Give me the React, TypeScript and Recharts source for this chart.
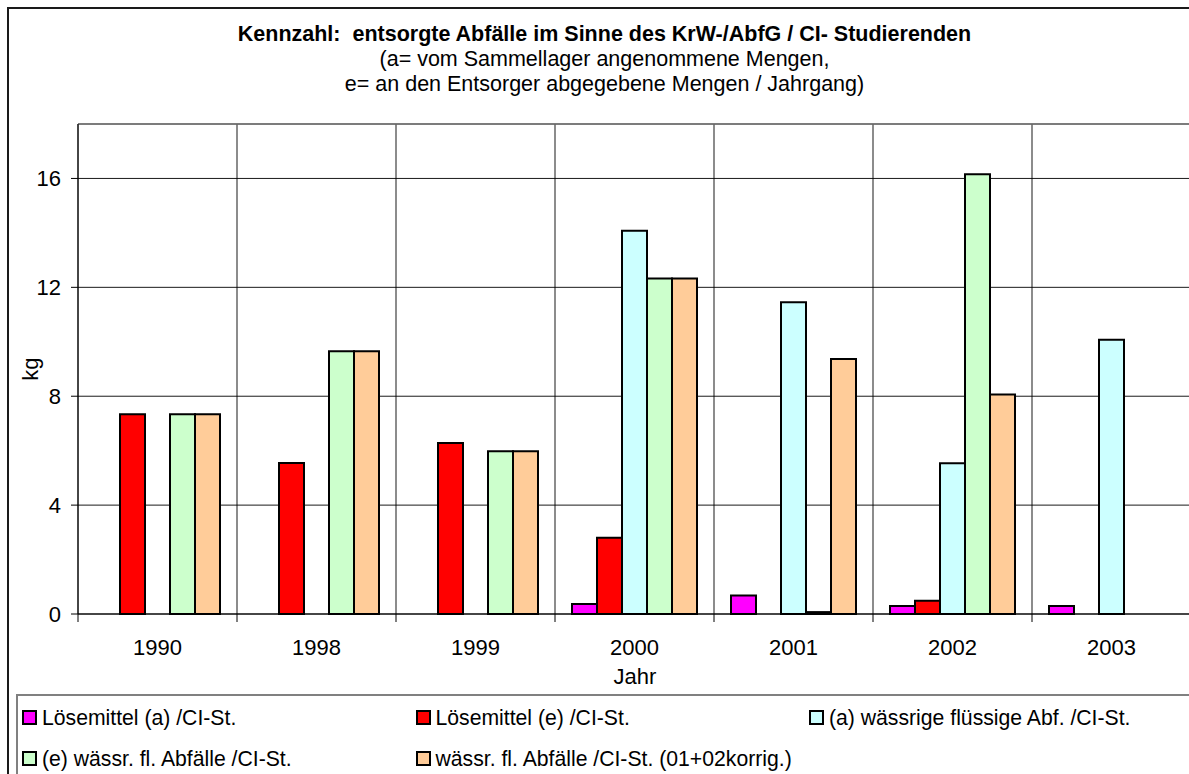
import { BarChart, Bar, XAxis, YAxis, CartesianGrid, ReferenceLine } from 'recharts'

// Excel-style grouped columns; the original picture is cut off at the right
// and bottom, so the chart box runs past the window and is clipped.

const years = ['1990', '1998', '1999', '2000', '2001', '2002', '2003']
const loesemittelA = [null, null, null, 0.37, 0.68, 0.29, 0.29]
const loesemittelE = [7.34, 5.55, 6.28, 2.8, null, 0.49, null]
const waessrigA = [null, null, null, 14.08, 11.45, 5.54, 10.07]
const waessrigE = [7.34, 9.65, 5.98, 12.32, 0.07, 16.15, null]
const waessrigKorr = [7.34, 9.65, 5.98, 12.32, 9.37, 8.06, null]

const yTicks = [0, 4, 8, 12, 16]

const series = [
  { key: 'loesA', name: 'Lösemittel (a) /CI-St.', color: '#FF00FF', values: loesemittelA },
  { key: 'loesE', name: 'Lösemittel (e) /CI-St.', color: '#FF0000', values: loesemittelE },
  { key: 'waessA', name: '(a) wässrige flüssige Abf. /CI-St.', color: '#CCFFFF', values: waessrigA },
  { key: 'waessE', name: '(e) wässr. fl. Abfälle /CI-St.', color: '#CCFFCC', values: waessrigE },
  { key: 'waessK', name: 'wässr. fl. Abfälle /CI-St. (01+02korrig.)', color: '#FFCC99', values: waessrigKorr },
]

const data = years.map((year, i) => {
  const row: Record<string, string | number | null> = { year }
  series.forEach(s => { row[s.key] = s.values[i] })
  return row
})

const font = '"Liberation Sans", Arial, sans-serif'

// category label plus an Excel-style tick mark on the left edge of the band
function YearTick(props: any) {
  const { x, y, payload, width } = props
  const half = payload?.offset || (width ? width / years.length / 2 : 0)
  const axisY = y - 25
  return (
    <g>
      <line x1={x - half} x2={x - half} y1={axisY} y2={axisY + 8} stroke="#000" />
      {payload.index === years.length - 1 && (
        <line x1={x + half} x2={x + half} y1={axisY} y2={axisY + 8} stroke="#000" />
      )}
      <text x={x} y={y} dy="0.71em" textAnchor="middle" fill="#000" fontSize={22} fontFamily={font}>
        {payload.value}
      </text>
    </g>
  )
}

export default function App() {
  return (
    <div style={{ position: 'fixed', left: 0, top: 0, width: 1189, height: 774, overflow: 'hidden', background: '#fff', fontFamily: font, color: '#000' }}>
      <div style={{ position: 'absolute', left: 7, top: 7, width: 1196, height: 820, border: '2px solid #1a1a1a', boxSizing: 'border-box' }} />

      <div style={{ position: 'absolute', left: 8, width: 1193, top: 22, textAlign: 'center', fontSize: 21.5, lineHeight: '25px' }}>
        <div style={{ fontWeight: 'bold' }}>Kennzahl:&nbsp; entsorgte Abfälle im Sinne des KrW-/AbfG / CI- Studierenden</div>
        <div>(a= vom Sammellager angenommene Mengen,</div>
        <div>e= an den Entsorger abgegebene Mengen / Jahrgang)</div>
      </div>

      <div style={{ position: 'absolute', left: 0, top: 0 }}>
        <BarChart
          width={1205}
          height={780}
          data={data}
          margin={{ top: 124, right: 14, left: 0, bottom: 106 }}
          barSize={25}
          barGap={0}
        >
          <XAxis
            dataKey="year"
            height={60}
            axisLine={{ stroke: '#000' }}
            tickLine={false}
            tickSize={0}
            tickMargin={25}
            tick={<YearTick />}
          />
          <YAxis
            domain={[0, 18]}
            ticks={yTicks}
            width={78}
            axisLine={{ stroke: '#000' }}
            tickLine={{ stroke: '#000' }}
            tickSize={7}
            tickMargin={10}
            tick={{ fill: '#000', fontSize: 22, fontFamily: font }}
          />
          <CartesianGrid
            stroke="#000"
            strokeOpacity={0.9}
            verticalCoordinatesGenerator={({ offset }: any) =>
              [...years.map((_, i) => i), years.length].map(i => offset.left + (i * offset.width) / years.length)
            }
          />
          <ReferenceLine y={18} stroke="#777" strokeWidth={1.5} />
          {series.map(s => (
            <Bar
              key={s.key}
              dataKey={s.key}
              name={s.name}
              fill={s.color}
              stroke="#000"
              strokeWidth={2}
              isAnimationActive={false}
            />
          ))}
        </BarChart>
      </div>

      <div style={{ position: 'absolute', left: 31, top: 369, fontSize: 22, transform: 'translate(-50%, -50%) rotate(-90deg)', whiteSpace: 'nowrap' }}>kg</div>
      <div style={{ position: 'absolute', left: 635, top: 665, fontSize: 22, transform: 'translateX(-50%)', lineHeight: '24px' }}>Jahr</div>

      <div style={{ position: 'absolute', left: 16, top: 694, width: 1300, height: 200, border: '2px solid #808080', boxSizing: 'border-box' }} />
      {series.map((s, i) => {
        const col = i % 3
        const row = Math.floor(i / 3)
        return (
          <div key={s.key} style={{ position: 'absolute', left: 22 + col * 393.5, top: 707 + row * 41, display: 'flex', alignItems: 'center', height: 21, fontSize: 21.2, whiteSpace: 'nowrap' }}>
            <span style={{ display: 'inline-block', width: 15, height: 15, background: s.color, border: '2px solid #000', boxSizing: 'border-box', marginRight: 5 }} />
            <span>{s.name}</span>
          </div>
        )
      })}
    </div>
  )
}
